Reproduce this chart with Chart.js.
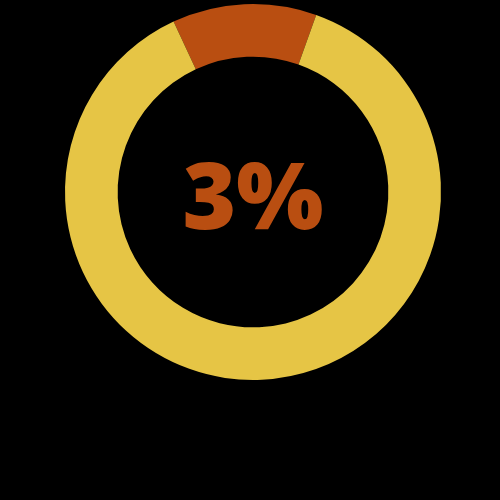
<!DOCTYPE html>
<html><head><meta charset="utf-8">
<script src="https://cdn.jsdelivr.net/npm/chart.js@4"></script>
<style>html,body{margin:0;padding:0;background:#000;}#wrap{width:500px;height:500px;}</style>
</head><body><div id="wrap"><canvas id="c" width="500" height="500"></canvas></div>
<script>
const labels = ["Share", "Rest"];
const values = [12.4, 87.6];
const colors = ["#B94E11", "#E6C545"];
const centerLabel = "3%";

const centerText = {
  id: 'centerText',
  afterDraw(chart) {
    const {ctx, chartArea} = chart;
    const cx = (chartArea.left + chartArea.right) / 2;
    const cy = (chartArea.top + chartArea.bottom) / 2;
    ctx.save();
    ctx.font = '800 92px "Open Sans"';
    ctx.fillStyle = colors[0];
    ctx.textAlign = 'center';
    ctx.textBaseline = 'alphabetic';
    const m = ctx.measureText(centerLabel);
    const h = m.actualBoundingBoxAscent + m.actualBoundingBoxDescent;
    ctx.fillText(centerLabel, cx, cy + 4 + h / 2 - m.actualBoundingBoxDescent);
    ctx.restore();
  }
};

new Chart(document.getElementById('c'), {
  type: 'doughnut',
  data: { labels, datasets: [{ data: values, backgroundColor: colors, borderWidth: 0 }] },
  options: {
    responsive: false,
    animation: false,
    rotation: -25,
    cutout: '72%',
    layout: { padding: { left: 65, right: 59, top: 4, bottom: 120 } },
    plugins: { legend: { display: false }, tooltip: { enabled: false } }
  },
  plugins: [centerText]
});
</script></body></html>
